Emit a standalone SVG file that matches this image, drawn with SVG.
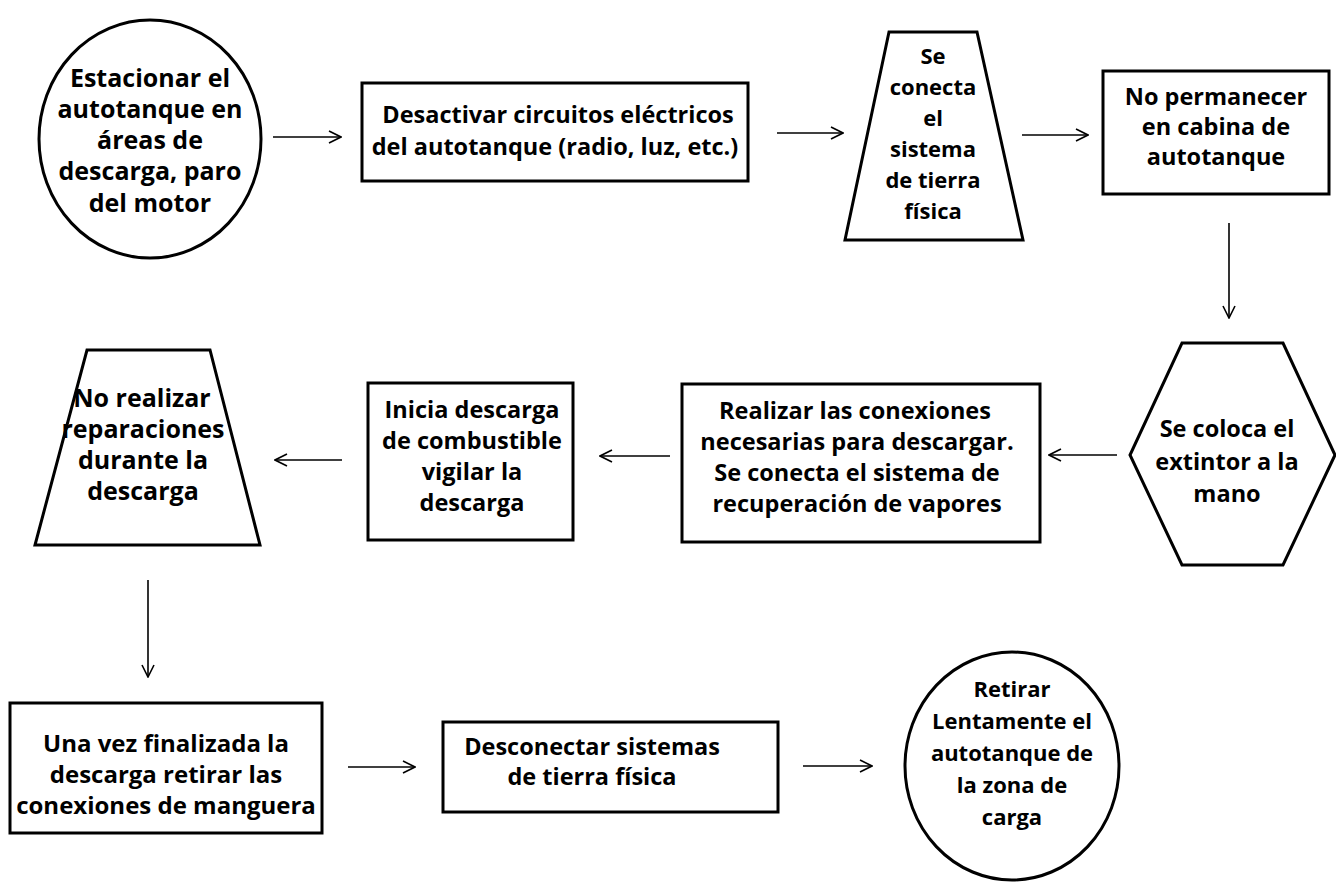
<svg xmlns="http://www.w3.org/2000/svg" width="1336" height="882" viewBox="0 0 1336 882">
<style>
.s{fill:#fff;stroke:#000;stroke-width:3}
.t{font-family:"Open Sans","Liberation Sans",sans-serif;font-weight:bold;font-size:23.5px;fill:#000;text-anchor:middle}
.l{font-size:25px}
.k{font-size:24px}
.m{font-size:22px}
.c{fill:none;stroke:#000;stroke-width:1.6}
</style>
<defs>
<marker id="ah" viewBox="0 0 14 14" refX="13" refY="7" markerWidth="14" markerHeight="14" markerUnits="userSpaceOnUse" orient="auto">
<path d="M1,1 L13,7 L1,13" fill="none" stroke="#000" stroke-width="1.6"/>
</marker>
</defs>
<rect width="1336" height="882" fill="#fff"/>
<g id="connectors">
<path class="c" d="M273,137 H341" marker-end="url(#ah)"/>
<path class="c" d="M777,133 H843" marker-end="url(#ah)"/>
<path class="c" d="M1022,135 H1088" marker-end="url(#ah)"/>
<path class="c" d="M1229,223 V318" marker-end="url(#ah)"/>
<path class="c" d="M1117,455 H1049" marker-end="url(#ah)"/>
<path class="c" d="M670,456 H600" marker-end="url(#ah)"/>
<path class="c" d="M342,460 H275" marker-end="url(#ah)"/>
<path class="c" d="M148,580 V677" marker-end="url(#ah)"/>
<path class="c" d="M348,767 H415" marker-end="url(#ah)"/>
<path class="c" d="M803,766 H872" marker-end="url(#ah)"/>
</g>
<g id="n1">
<ellipse class="s" cx="150" cy="139" rx="111" ry="119"/>
<text class="t l"><tspan x="150" y="87">Estacionar el</tspan><tspan x="150" y="118">autotanque en</tspan><tspan x="150" y="149">áreas de</tspan><tspan x="150" y="180">descarga, paro</tspan><tspan x="150" y="212">del motor</tspan></text>
</g>
<g id="n2">
<rect class="s" x="362" y="83" width="386" height="98"/>
<text class="t"><tspan x="558" y="123">Desactivar circuitos eléctricos</tspan><tspan x="555" y="155">del autotanque (radio, luz, etc.)</tspan></text>
</g>
<g id="n3">
<polygon class="s" points="889,32 977,32 1023,240 845,240"/>
<text class="t m"><tspan x="933" y="64">Se</tspan><tspan x="933" y="95">conecta</tspan><tspan x="933" y="126">el</tspan><tspan x="933" y="157">sistema</tspan><tspan x="933" y="188">de tierra</tspan><tspan x="933" y="219">física</tspan></text>
</g>
<g id="n4">
<rect class="s" x="1103" y="71" width="226" height="123"/>
<text class="t"><tspan x="1216" y="105">No permanecer</tspan><tspan x="1216" y="135">en cabina de</tspan><tspan x="1216" y="165">autotanque</tspan></text>
</g>
<g id="n5">
<polygon class="s" points="1182,343 1283,343 1335,455 1283,565 1182,565 1130,455"/>
<text class="t"><tspan x="1227" y="437">Se coloca el</tspan><tspan x="1227" y="470">extintor a la</tspan><tspan x="1227" y="502">mano</tspan></text>
</g>
<g id="n6">
<rect class="s" x="682" y="384" width="358" height="158"/>
<text class="t"><tspan x="855" y="419">Realizar las conexiones</tspan><tspan x="857" y="450">necesarias para descargar.</tspan><tspan x="857" y="481">Se conecta el sistema de</tspan><tspan x="857" y="512">recuperación de vapores</tspan></text>
</g>
<g id="n7">
<rect class="s" x="368" y="383" width="205" height="157"/>
<text class="t"><tspan x="472" y="418">Inicia descarga</tspan><tspan x="472" y="449">de combustible</tspan><tspan x="472" y="480">vigilar la</tspan><tspan x="472" y="511">descarga</tspan></text>
</g>
<g id="n8">
<polygon class="s" points="87,350 210,350 260,545 35,545"/>
<text class="t l"><tspan x="142" y="407">No realizar</tspan><tspan x="143" y="438">reparaciones</tspan><tspan x="143" y="469">durante la</tspan><tspan x="143" y="500">descarga</tspan></text>
</g>
<g id="n9">
<rect class="s" x="10" y="703" width="312" height="130"/>
<text class="t k"><tspan x="166" y="752">Una vez finalizada la</tspan><tspan x="166" y="783">descarga retirar las</tspan><tspan x="166" y="814">conexiones de manguera</tspan></text>
</g>
<g id="n10">
<rect class="s" x="443" y="722" width="335" height="90"/>
<text class="t"><tspan x="592" y="755">Desconectar sistemas</tspan><tspan x="592" y="785">de tierra física</tspan></text>
</g>
<g id="n11">
<ellipse class="s" cx="1012" cy="766" rx="107" ry="114"/>
<text class="t m"><tspan x="1012" y="697">Retirar</tspan><tspan x="1012" y="729">Lentamente el</tspan><tspan x="1012" y="761">autotanque de</tspan><tspan x="1012" y="793">la zona de</tspan><tspan x="1012" y="825">carga</tspan></text>
</g>
</svg>
